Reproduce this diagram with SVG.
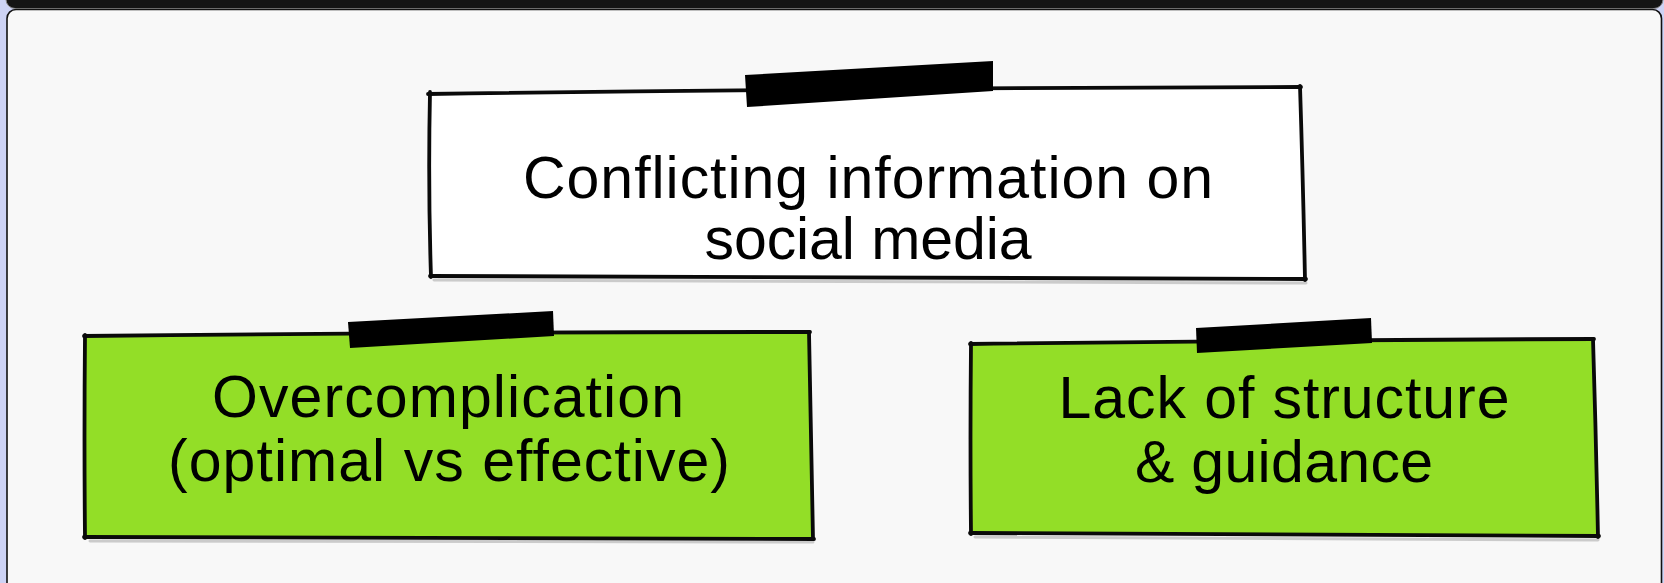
<svg xmlns="http://www.w3.org/2000/svg" width="1664" height="583" viewBox="0 0 1664 583">
  <style>
    .edge { fill: none; stroke: #0a0a0a; stroke-width: 3.8; stroke-linecap: round; stroke-linejoin: round; }
    .shadow { fill: none; stroke: #000; stroke-opacity: 0.18; stroke-width: 3; stroke-linecap: round; }
    .tape { fill: #000; }
    .label { font-family: "Liberation Sans", Arial, sans-serif; font-size: 59px; fill: #000; text-anchor: middle; }
    .green { fill: #93de27; }
  </style>
  <!-- frame -->
  <rect x="0" y="0" width="1664" height="583" fill="#cdd3f5"/>
  <rect x="6" y="-30" width="1657" height="38.5" rx="9" fill="#141414" stroke="#8a8a8a" stroke-width="1"/>
  <rect x="7" y="9.5" width="1654.5" height="620" rx="9" fill="#f8f8f8" stroke="#111" stroke-width="1.6"/>

  <g id="connectors"></g>

  <g id="node-top">
    <polygon points="430,93 1300,88 1305,279 430,276" fill="#ffffff"/>
    <path class="shadow" d="M434,280 Q870,282 1306,283"/>
    <path class="edge" d="M428,94 Q860,88 1301,87"/>
    <path class="edge" d="M1300,86 Q1303,180 1305,280"/>
    <path class="edge" d="M1306,279 Q870,278 430,276"/>
    <path class="edge" d="M431,277 Q428,185 430,92"/>
    <polygon class="tape" points="745,75 993,61 993,91 747,107"/>
    <text class="label" x="868" y="198" textLength="690" lengthAdjust="spacing">Conflicting information on</text>
    <text class="label" x="868" y="259" textLength="327" lengthAdjust="spacing">social media</text>
  </g>

  <g id="node-left">
    <polygon class="green" points="85,335 810,333 813,538 85,537"/>
    <path class="shadow" d="M90,541 Q450,543 813,542"/>
    <path class="edge" d="M84,336 Q450,332 810,332"/>
    <path class="edge" d="M809,332 Q811,435 813,539"/>
    <path class="edge" d="M814,539 Q450,538 84,537"/>
    <path class="edge" d="M85,538 Q84,437 85,335"/>
    <polygon class="tape" points="348,322 553,311 554,336 350,348"/>
    <text class="label" x="448" y="417" textLength="472" lengthAdjust="spacing">Overcomplication</text>
    <text class="label" x="449" y="481" textLength="562" lengthAdjust="spacing">(optimal vs effective)</text>
  </g>

  <g id="node-right">
    <polygon class="green" points="971,343 1593,340 1598,536 971,533"/>
    <path class="shadow" d="M975,537 Q1290,539 1598,540"/>
    <path class="edge" d="M970,344 Q1280,340 1594,339"/>
    <path class="edge" d="M1593,339 Q1596,437 1598,537"/>
    <path class="edge" d="M1599,536 Q1285,535 970,533"/>
    <path class="edge" d="M971,534 Q970,440 971,343"/>
    <polygon class="tape" points="1196,328 1371,318 1372,343 1197,353"/>
    <text class="label" x="1284" y="418" textLength="451" lengthAdjust="spacing">Lack of structure</text>
    <text class="label" x="1284" y="482" textLength="298" lengthAdjust="spacing">&amp; guidance</text>
  </g>
</svg>
